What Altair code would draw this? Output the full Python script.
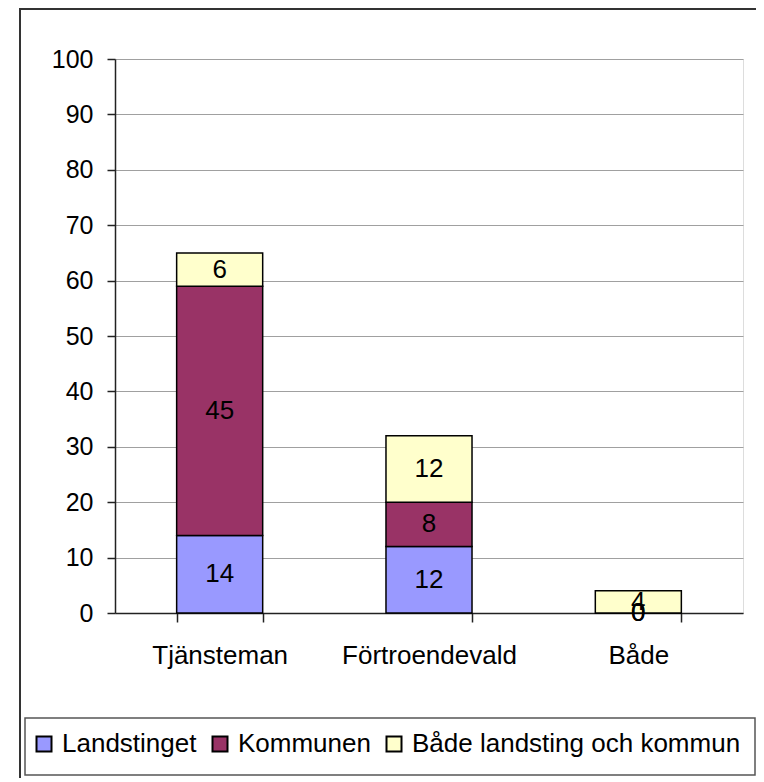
import altair as alt
import pandas as pd

categories = ["Tjänsteman", "Förtroendevald", "Både"]
series = ["Landstinget", "Kommunen", "Både landsting och kommun"]
landstinget = [14, 12, 0]
kommunen = [45, 8, 0]
bada = [6, 12, 4]
colors = ["#9999FF", "#993366", "#FFFFCC"]
y_ticks = list(range(0, 101, 10))

rows = []
for i, c in enumerate(categories):
    for j, (s, vals) in enumerate(zip(series, [landstinget, kommunen, bada])):
        rows.append({"cat": c, "series": s, "value": vals[i], "order": j})
df = pd.DataFrame(rows)

FONT = "Liberation Sans"
W, H = 628, 554

x_enc = alt.X("cat:N", sort=categories, title=None,
              scale=alt.Scale(paddingInner=0.589, paddingOuter=0.2945),
              axis=alt.Axis(labelAngle=0, tickBand="extent", labelFontSize=26,
                            labelFont=FONT, labelColor="black", tickSize=9,
                            labelPadding=20, domainColor="#222", tickColor="#222",
                            domainWidth=1.5, tickWidth=1.5, grid=False))

bars = alt.Chart(df).mark_bar(stroke="black", strokeWidth=1.5).encode(
    x=x_enc,
    y=alt.Y("value:Q", stack="zero", title=None,
            scale=alt.Scale(domain=[0, 100], nice=False),
            axis=alt.Axis(values=y_ticks, labelFontSize=25, labelFont=FONT,
                          labelColor="black", tickSize=8, labelPadding=14,
                          domainColor="#222", tickColor="#222", domainWidth=1.5,
                          tickWidth=1.5, gridColor="#a0a0a0", gridWidth=1)),
    color=alt.Color("series:N", scale=alt.Scale(domain=series, range=colors),
                    legend=alt.Legend(title=None, orient="none", direction="horizontal",
                                      legendX=-84, legendY=672, columnPadding=10,
                                      labelOffset=5, symbolType="square",
                                      symbolSize=225, symbolStrokeColor="black",
                                      symbolStrokeWidth=2, labelFontSize=26,
                                      labelFont=FONT, labelColor="black",
                                      labelLimit=500, padding=0)),
    order=alt.Order("order:Q"),
)

labels = alt.Chart(df).transform_stack(
    stack="value", groupby=["cat"], as_=["v0", "v1"],
    sort=[alt.SortField("order")]
).transform_calculate(
    mid="(datum.v0 + datum.v1) / 2"
).mark_text(fontSize=26, font=FONT, color="black", baseline="middle", align="center").encode(
    x=alt.X("cat:N", sort=categories),
    y=alt.Y("mid:Q"),
    text=alt.Text("value:Q"),
)

one = pd.DataFrame({"a": [0]})
outer_top = alt.Chart(one).mark_rule(stroke="#333", strokeWidth=2).encode(
    x=alt.value(-95), x2=alt.value(641), y=alt.value(-50))
outer_left = alt.Chart(one).mark_rule(stroke="#333", strokeWidth=2).encode(
    x=alt.value(-95), y=alt.value(-51), y2=alt.value(720))
legend_box = alt.Chart(one).mark_rect(fill=None, stroke="#555", strokeWidth=1.5).encode(
    x=alt.value(-90), x2=alt.value(640), y=alt.value(659), y2=alt.value(716))

chart = alt.layer(outer_top, outer_left, legend_box, bars, labels).properties(
    width=W, height=H,
    autosize=alt.AutoSizeParams(type="none"),
    padding={"left": 107, "top": 51, "right": 13, "bottom": 165},
).configure_view(stroke="#808080", strokeWidth=2).configure(background="white")

chart.save("out.html", embed_options={"renderer": "svg", "actions": False})
